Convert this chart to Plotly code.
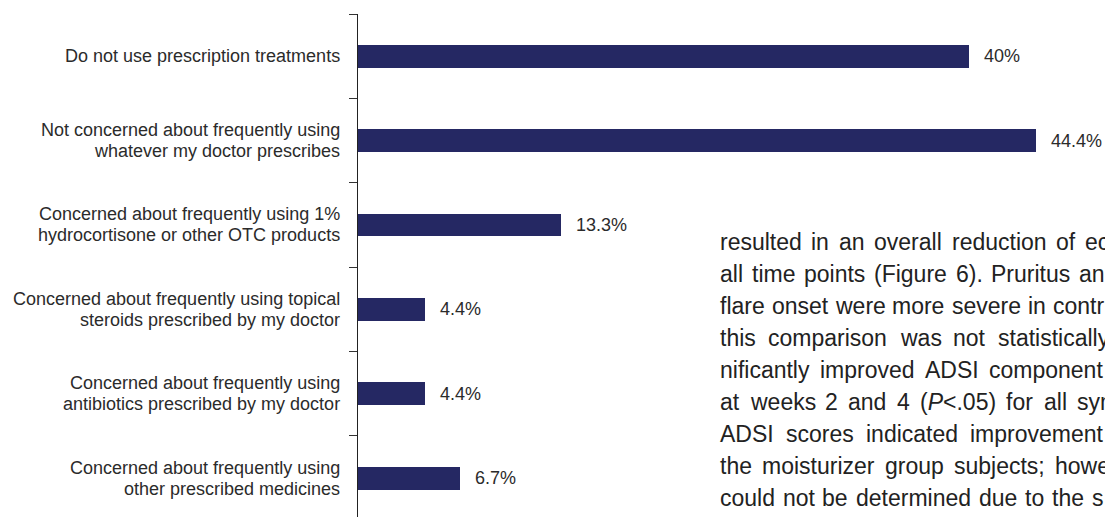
import plotly.graph_objects as go

# Survey responses: concerns about using treatments frequently (% of respondents)
categories = [
    "Do not use prescription treatments",
    "Not concerned about frequently using<br>whatever my doctor prescribes",
    "Concerned about frequently using 1%<br>hydrocortisone or other OTC products",
    "Concerned about frequently using topical<br>steroids prescribed by my doctor",
    "Concerned about frequently using<br>antibiotics prescribed by my doctor",
    "Concerned about frequently using<br>other prescribed medicines",
]
percentages = [40, 44.4, 13.3, 4.4, 4.4, 6.7]
value_labels = ["40%", "44.4%", "13.3%", "4.4%", "4.4%", "6.7%"]

# Justified body-text column beside the figure; it runs on past the right edge,
# so each line holds only the part that shows, plus where that part ends (px).
body_lines = [
    "resulted in an overall reduction of ec",
    "all time points (Figure 6). Pruritus an",
    "flare onset were more severe in contr",
    "this comparison was not statistically",
    "nificantly improved ADSI component",
    "at weeks 2 and 4 (P<.05) for all sym",
    "ADSI scores indicated improvement",
    "the moisturizer group subjects; howe",
    "could not be determined due to the s",
]
body_line_ends = [1109, 1105, 1104, 1109, 1103, 1119, 1103, 1110, 1103]

W, H = 1105, 517
M_L, M_T = 358, 14
BAR_COLOR = "#252863"
LABEL_COLOR = "#2b2b2b"
BODY_COLOR = "#222222"
FONT = "Liberation Sans, Arial, Helvetica, sans-serif"
BODY_SIZE = 23
BODY_LEFT = 720
BODY_TOP = 242
BODY_LEADING = 32

# Advance widths of Liberation Sans / Arial, in 1/1000 em
ADV = {
    "a": 556, "b": 556, "c": 500, "d": 556, "e": 556, "f": 278, "g": 556,
    "h": 556, "i": 222, "j": 222, "k": 500, "l": 222, "m": 833, "n": 556,
    "o": 556, "p": 556, "q": 556, "r": 333, "s": 500, "t": 278, "u": 556,
    "v": 500, "w": 722, "x": 500, "y": 500, "z": 500,
    "A": 667, "D": 722, "S": 667, "I": 278, "F": 611, "P": 667,
    "(": 333, ")": 333, ".": 278, ";": 278, "<": 584, " ": 278, "%": 889,
}
for d in "0123456789":
    ADV[d] = 556


def text_width(s, size):
    return sum(ADV.get(ch, 556) for ch in s) * size / 1000.0


def markup(word):
    # italic P in the statistics, with the < escaped for the text renderer
    return word.replace("(P<", "(<i>P</i>&lt;")


fig = go.Figure(
    go.Bar(
        x=percentages,
        y=categories,
        orientation="h",
        width=0.27,
        marker=dict(color=BAR_COLOR, line=dict(width=0)),
        hoverinfo="skip",
    )
)

annotations = []
txt = dict(showarrow=False, borderpad=0, borderwidth=0)

# Category labels, one annotation per line for tighter leading
for cat in categories:
    lines = cat.split("<br>")
    n = len(lines)
    for j, line in enumerate(lines):
        annotations.append(dict(
            text=line, xref="paper", yref="y", x=0, y=cat,
            xanchor="right", yanchor="middle", xshift=-18,
            yshift=((n - 1) / 2 - j) * 21,
            font=dict(size=18, color=LABEL_COLOR, family=FONT), **txt,
        ))

# Value labels just past the end of each bar
for cat, val, lab in zip(categories, percentages, value_labels):
    annotations.append(dict(
        text=lab, xref="x", yref="y", x=val, y=cat,
        xanchor="left", yanchor="middle", xshift=15,
        font=dict(size=18, color=LABEL_COLOR, family=FONT), **txt,
    ))

# Body text, justified word by word
plot_w, plot_h = W - M_L, H - M_T


def px_to_paper(px, py):
    return (px - M_L) / plot_w, (H - py) / plot_h


space = text_width(" ", BODY_SIZE)
for i, (line, end) in enumerate(zip(body_lines, body_line_ends)):
    words = line.split(" ")
    widths = [text_width(w, BODY_SIZE) for w in words]
    natural = sum(widths) + space * (len(words) - 1)
    gap = space + (end - BODY_LEFT - natural) / max(len(words) - 1, 1)
    xpos = BODY_LEFT
    ypix = BODY_TOP + BODY_LEADING * i
    for w, wd in zip(words, widths):
        bx, by = px_to_paper(xpos, ypix)
        annotations.append(dict(
            text=markup(w), xref="paper", yref="paper", x=bx, y=by,
            xanchor="left", yanchor="middle",
            font=dict(size=BODY_SIZE, color=BODY_COLOR, family=FONT), **txt,
        ))
        xpos += wd + gap

fig.update_layout(
    width=W, height=H,
    margin=dict(l=M_L, r=0, t=M_T, b=0, pad=0),
    paper_bgcolor="white", plot_bgcolor="white",
    showlegend=False,
    bargap=0,
    xaxis=dict(range=[0, plot_w / 15.27], visible=False, fixedrange=True),
    yaxis=dict(
        type="category",
        categoryorder="array", categoryarray=categories,
        range=[5.46, -0.5],
        showticklabels=False,
        tickson="boundaries", ticks="outside", ticklen=8, tickwidth=1,
        tickcolor="#333333",
        showline=True, linecolor="#222222", linewidth=1,
        showgrid=False, zeroline=False, fixedrange=True,
    ),
    annotations=annotations,
)

fig.write_html("out.html", config={"displayModeBar": False})
